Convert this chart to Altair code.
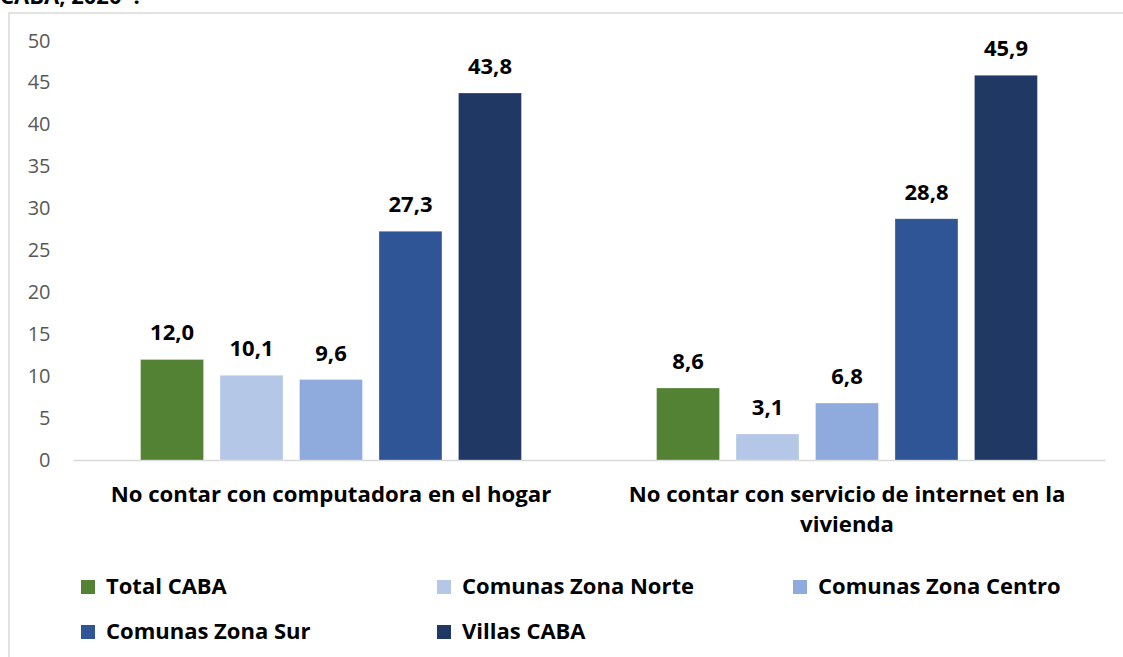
import altair as alt
import pandas as pd

categories = ["No contar con computadora en el hogar",
              "No contar con servicio de internet en la vivienda"]
series = ["Total CABA", "Comunas Zona Norte", "Comunas Zona Centro",
          "Comunas Zona Sur", "Villas CABA"]
colors = ["#548235", "#B4C7E7", "#8FAADC", "#2F5597", "#203864"]
values_computadora = [12.0, 10.1, 9.6, 27.3, 43.8]
values_internet = [8.6, 3.1, 6.8, 28.8, 45.9]
y_ticks = [0, 5, 10, 15, 20, 25, 30, 35, 40, 45, 50]
title_fragment = "CABA, 2020*:"

# legend is laid out column-major by Vega; this order gives the reference's row layout
legend_order = [0, 3, 1, 4, 2]
legend_domain = [series[i] for i in legend_order]
legend_range = [colors[i] for i in legend_order]

rows = []
for s, v in zip(series, values_computadora):
    rows.append({"cat": categories[0], "serie": s, "value": v})
for s, v in zip(series, values_internet):
    rows.append({"cat": categories[1], "serie": s, "value": v})
df = pd.DataFrame(rows)

FONT = "Open Sans"
W, H = 1032, 419
PL, PT = 73, 41

x_enc = alt.X("cat:N", sort=categories, title=None,
              scale=alt.Scale(paddingInner=0, paddingOuter=0),
              axis=alt.Axis(labelExpr="datum.label == '" + categories[1] +
                            "' ? ['No contar con servicio de internet en la', 'vivienda'] : datum.label",
                            labelAngle=0, labelFontSize=22.2, labelFontWeight="bold",
                            labelColor="#000000", labelFont=FONT, labelPadding=23,
                            labelBaseline="top", labelLineHeight=30, labelLimit=700,
                            ticks=False, domain=True, domainColor="#D9D9D9", domainWidth=1.5))
xo_enc = alt.XOffset("serie:N", sort=series,
                     scale=alt.Scale(paddingInner=0.2075, paddingOuter=0.85))
y_enc = alt.Y("value:Q", title=None,
              scale=alt.Scale(domain=[0, 50], nice=False),
              axis=alt.Axis(values=y_ticks, grid=False, domain=False, ticks=False,
                            labelFontSize=20, labelColor="#595959", labelFont=FONT,
                            labelPadding=23))

bars = alt.Chart(df).mark_bar(stroke="#ffffff", strokeWidth=0.6, strokeOpacity=0.5).encode(
    x=x_enc, xOffset=xo_enc, y=y_enc,
    color=alt.Color("serie:N", title=None,
                    scale=alt.Scale(domain=legend_domain, range=legend_range),
                    legend=alt.Legend(orient="none", legendX=4, legendY=535,
                                      columns=3, gridAlign="all",
                                      columnPadding=84, rowPadding=23,
                                      symbolType="square",
                                      symbolSize=196, symbolStrokeWidth=0,
                                      labelFontSize=22, labelFontWeight="bold",
                                      labelFont=FONT, labelColor="#000000",
                                      labelLimit=400, symbolOffset=0, labelOffset=7)),
)

labels = alt.Chart(df).transform_calculate(
    lbl="replace(format(datum.value, '.1f'), '.', ',')"
).mark_text(fontSize=22, fontWeight="bold", font=FONT, color="#000000",
            baseline="alphabetic", dy=-19).encode(
    x=alt.X("cat:N", sort=categories), xOffset=xo_enc,
    y=alt.Y("value:Q"), text="lbl:N")

border = alt.Chart(pd.DataFrame({"a": [0]})).mark_rect(
    fill=None, stroke="#D9D9D9", strokeWidth=1.5).encode(
    x=alt.value(9 - PL), x2=alt.value(1123 - PL + 20),
    y=alt.value(13 - PT), y2=alt.value(657 - PT + 20))

title_txt = alt.Chart(pd.DataFrame({"t": [title_fragment]})).mark_text(
    fontSize=22, fontWeight="bold", font=FONT, color="#000000",
    align="left", baseline="alphabetic").encode(
    x=alt.value(0 - PL), y=alt.value(4 - PT), text="t:N")

chart = alt.layer(border, bars, labels, title_txt).properties(
    width=W, height=H,
    background="#ffffff",
    autosize=alt.AutoSizeParams(type="none"),
    padding={"left": PL, "top": PT, "right": 1123 - PL - W, "bottom": 657 - PT - H},
).configure_view(strokeWidth=0, stroke="transparent")

chart.save("out.html", embed_options={"renderer": "svg", "actions": False})
